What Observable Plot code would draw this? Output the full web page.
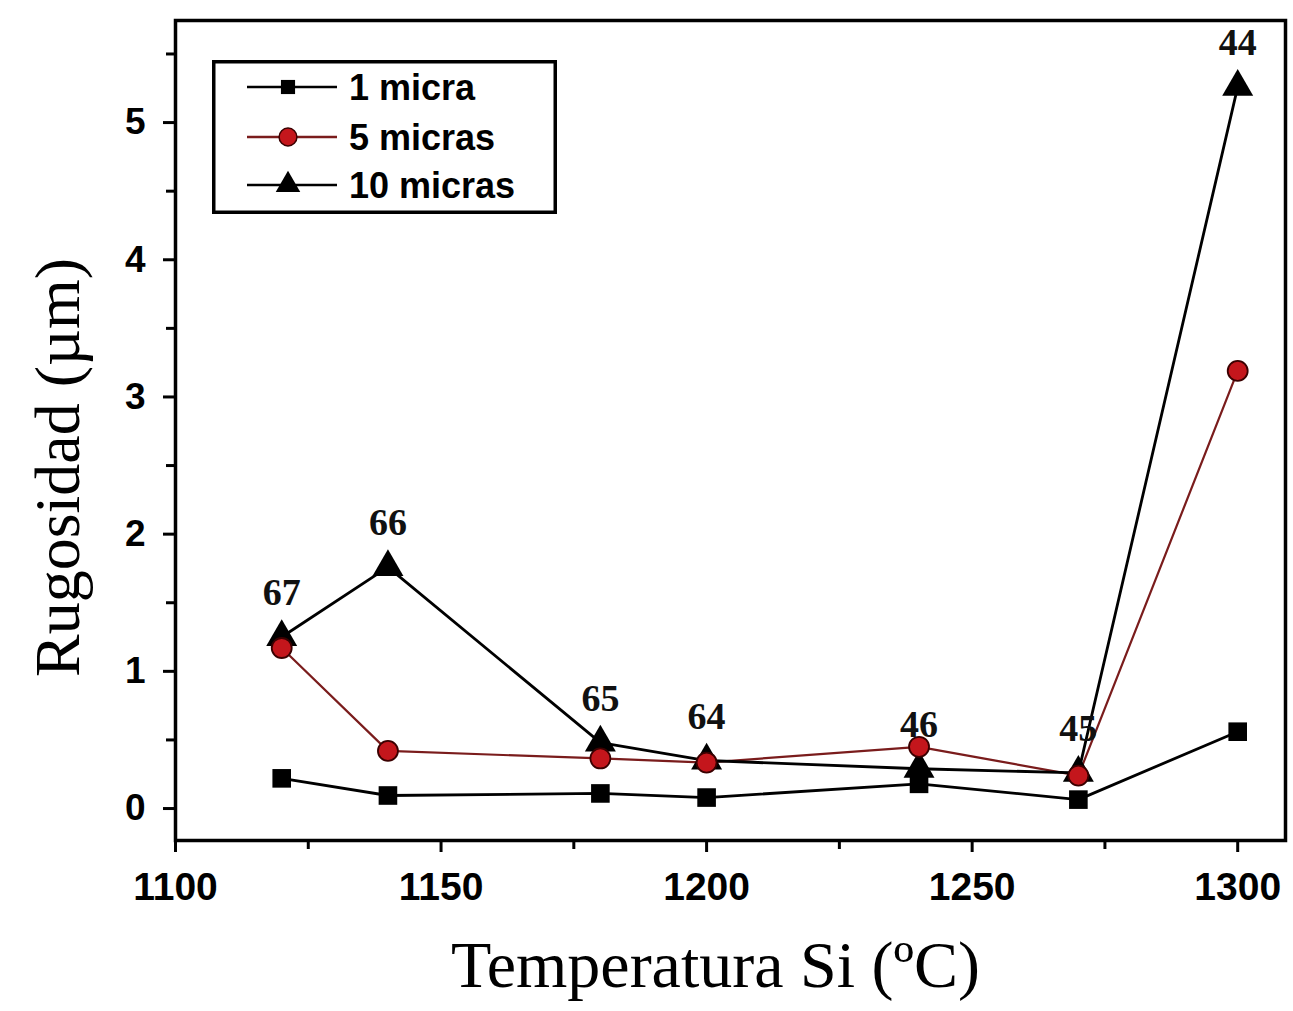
<!DOCTYPE html>
<html>
<head>
<meta charset="utf-8">
<script src="https://cdn.jsdelivr.net/npm/d3@7"></script>
<script src="https://cdn.jsdelivr.net/npm/@observablehq/plot@0.6"></script>
<style>
  body { margin: 0; background: #fff; }
  #wrap { position: relative; width: 1293px; height: 1011px; }
  #legend { position: absolute; left: 212px; top: 60px; }
</style>
</head>
<body>
<div id="wrap"></div>
<script>
const temps = [1120, 1140, 1180, 1200, 1240, 1270, 1300];
const micra1 = [0.22, 0.095, 0.11, 0.08, 0.18, 0.065, 0.56];
const micras5 = [1.17, 0.42, 0.365, 0.335, 0.45, 0.24, 3.19];
const micras10 = [1.25, 1.76, 0.48, 0.35, 0.29, 0.26, 5.26];
const pointLabels = ["67", "66", "65", "64", "46", "45", "44"];
const seriesNames = ["1 micra", "5 micras", "10 micras"];
const xTicks = [1100, 1150, 1200, 1250, 1300];
const xMinor = [1125, 1175, 1225, 1275];
const yTicks = [0, 1, 2, 3, 4, 5];
const yMinor = [0.5, 1.5, 2.5, 3.5, 4.5, 5.5];

const s1 = temps.map((t, i) => ({t, v: micra1[i]}));
const s5 = temps.map((t, i) => ({t, v: micras5[i]}));
const s10 = temps.map((t, i) => ({t, v: micras10[i], lab: pointLabels[i]}));

const red = "#c4161c";
const darkRed = "#7a1c1c";
const tickFont = "Liberation Sans, Arial, sans-serif";
const serif = "Liberation Serif, Times New Roman, serif";

const chart = Plot.plot({
  width: 1293,
  height: 1011,
  marginLeft: 175,
  marginRight: 8,
  marginTop: 20,
  marginBottom: 171,
  style: {fontFamily: "Liberation Sans, Arial, sans-serif", background: "#fff", color: "#000"},
  x: {domain: [1100, 1309], label: null},
  y: {domain: [-0.233, 5.744], label: null},
  marks: [
    Plot.axisX({ticks: xTicks, tickSize: 12, tickPadding: 20, fontSize: 39, fontWeight: "bold", fontFamily: tickFont, strokeWidth: 3, tickFormat: d => String(d)}),
    Plot.axisX({ticks: xMinor, tickSize: 9, strokeWidth: 3, tickFormat: () => ""}),
    Plot.axisY({ticks: yTicks, tickSize: 12, tickPadding: 18, fontSize: 37, fontWeight: "bold", fontFamily: tickFont, strokeWidth: 3, tickFormat: d => String(d)}),
    Plot.axisY({ticks: yMinor, tickSize: 9, strokeWidth: 3, tickFormat: () => ""}),
    Plot.frame({stroke: "#000", strokeWidth: 3.5}),
    Plot.line(s1, {x: "t", y: "v", stroke: "#000", strokeWidth: 2.8}),
    Plot.line(s5, {x: "t", y: "v", stroke: darkRed, strokeWidth: 2.2}),
    Plot.line(s10, {x: "t", y: "v", stroke: "#000", strokeWidth: 2.8}),
    Plot.dot(s10, {x: "t", y: "v", symbol: "triangle", r: 11.5, fill: "#000"}),
    Plot.dot(s1, {x: "t", y: "v", symbol: "square", r: 10.5, fill: "#000"}),
    Plot.dot(s5, {x: "t", y: "v", symbol: "circle", r: 10, fill: red, stroke: "#3a0000", strokeWidth: 1.8}),
    Plot.text(s10, {x: "t", y: "v", text: "lab", dy: -44, fontSize: 38, fontWeight: "bold",
      fontFamily: serif, fill: "#111"}),
    Plot.text(["Rugosidad (µm)"], {frameAnchor: "left", textAnchor: "middle", rotate: -90, dx: -117, dy: 37, fontSize: 64,
      fontFamily: serif, fill: "#000"}),
    Plot.text(["Temperatura Si (ºC)"], {frameAnchor: "bottom", dx: -15, dy: 146, fontSize: 66,
      fontFamily: serif, fill: "#000"})
  ]
});
document.getElementById("wrap").appendChild(chart);

// Legend overlay (inside plot area, top-left)
const legW = 345, legH = 154;
const leg = d3.create("svg").attr("id", "legend").attr("width", legW).attr("height", legH);
leg.append("rect").attr("x", 1.75).attr("y", 1.75).attr("width", legW - 3.5).attr("height", legH - 3.5)
  .attr("fill", "#fff").attr("stroke", "#000").attr("stroke-width", 3.5);
const rowY = [27, 77, 125];
const lineCol = ["#000", darkRed, "#000"];
seriesNames.forEach((name, i) => {
  const g = leg.append("g").attr("transform", `translate(0,${rowY[i]})`);
  g.append("line").attr("x1", 35).attr("x2", 125).attr("y1", 0).attr("y2", 0)
    .attr("stroke", lineCol[i]).attr("stroke-width", 2.5);
  const sym = [d3.symbolSquare, d3.symbolCircle, d3.symbolTriangle][i];
  const size = [200, 250, 260][i];
  g.append("path").attr("d", d3.symbol(sym, size)()).attr("transform", "translate(76,0)")
    .attr("fill", i === 1 ? red : "#000").attr("stroke", i === 1 ? "#3a0000" : "none").attr("stroke-width", 1.5);
  g.append("text").attr("x", 137).attr("y", 0).attr("dy", "0.36em")
    .attr("font-family", "Liberation Sans, Arial, sans-serif").attr("font-weight", "bold")
    .attr("font-size", 36).text(name);
});
document.getElementById("wrap").appendChild(leg.node());
</script>
</body>
</html>
